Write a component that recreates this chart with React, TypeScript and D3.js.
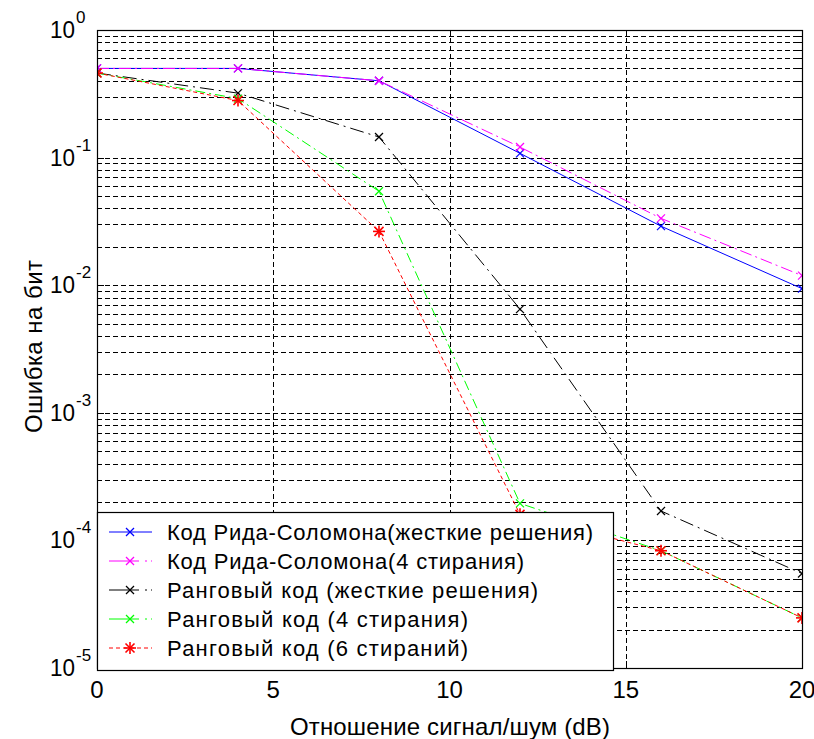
import React from "react";
import * as d3 from "d3";

// SNR points (dB)
const snr = [0, 4, 8, 12, 16, 20];

// Bit error rate for each scheme
const rsHard = [0.5, 0.5, 0.4, 0.108, 0.029, 0.0094];
const rsErase4 = [0.5, 0.5, 0.4, 0.121, 0.0334, 0.0119];
const rankHard = [0.46, 0.32, 0.145, 0.0065, 0.00017, 0.000055];
const rankErase4 = [0.46, 0.29, 0.0545, 0.000195, 0.000083, 0.0000247];
const rankErase6 = [0.46, 0.28, 0.0264, 0.00016, 0.000083, 0.0000247];

const legendLabels = [
  "Код Рида-Соломона(жесткие решения)",
  "Код Рида-Соломона(4 стирания)",
  "Ранговый код (жесткие решения)",
  "Ранговый код (4 стирания)",
  "Ранговый код (6 стираний)",
];
// rendered widths of the legend entries (bitmap-style wide spacing)
const legendWidths = [426, 357, 371, 301, 301];

const xTicks = [0, 5, 10, 15, 20];
const yDecades = [0, -1, -2, -3, -4, -5];

type Series = {
  values: number[];
  color: string;
  dash: string;
  legendDash: string;
  marker: "x" | "star";
};

const series: Series[] = [
  { values: rsHard, color: "#0000ff", dash: "none", legendDash: "none", marker: "x" },
  { values: rsErase4, color: "#ff00ff", dash: "12,4,2,4", legendDash: "30,6,2,4", marker: "x" },
  { values: rankHard, color: "#000000", dash: "14,5,2,5", legendDash: "30,6,2,4", marker: "x" },
  { values: rankErase4, color: "#00ff00", dash: "10,4,2,4", legendDash: "30,6,2,4", marker: "x" },
  { values: rankErase6, color: "#ff0000", dash: "4,3", legendDash: "4,3", marker: "star" },
];

const W = 814;
const H = 739;
const left = 97;
const right = 802;
const top = 30;
const bottom = 668;
const FONT = "'Liberation Sans', Arial, sans-serif";

function Marker({ x, y, kind, color }: { x: number; y: number; kind: "x" | "star"; color: string }) {
  if (kind === "x") {
    const s = 4;
    return (
      <g stroke={color} strokeWidth={1.2}>
        <line x1={x - s} y1={y - s} x2={x + s} y2={y + s} />
        <line x1={x - s} y1={y + s} x2={x + s} y2={y - s} />
      </g>
    );
  }
  const s = 6;
  const d = 4.5;
  return (
    <g stroke={color} strokeWidth={1.6}>
      <line x1={x - s} y1={y} x2={x + s} y2={y} />
      <line x1={x} y1={y - s} x2={x} y2={y + s} />
      <line x1={x - d} y1={y - d} x2={x + d} y2={y + d} />
      <line x1={x - d} y1={y + d} x2={x + d} y2={y - d} />
    </g>
  );
}

export default function App() {
  const x = d3.scaleLinear().domain([0, 20]).range([left, right]);
  const y = d3.scaleLog().domain([1e-5, 1]).range([bottom, top]);

  const gridY: number[] = [];
  for (let e = -5; e < 0; e++) {
    for (let m = 1; m <= 9; m++) gridY.push(m * Math.pow(10, e));
  }
  gridY.push(1);

  const line = d3
    .line<number>()
    .x((_, i) => x(snr[i]))
    .y((v) => y(v));

  const legX = 97;
  const legY = 512;
  const legW = 516;
  const legH = 158;
  const rowY = (i: number) => 532 + i * 29;

  return (
    <svg width={W} height={H} style={{ display: "block", position: "absolute", left: 0, top: 0 }}>
      <rect x={0} y={0} width={W} height={H} fill="#fff" />
      <defs>
        <clipPath id="plotClip">
          <rect x={left} y={top} width={right - left} height={bottom - top} />
        </clipPath>
      </defs>

      {/* grid */}
      <g stroke="#000" strokeWidth={1} strokeDasharray="5,3" shapeRendering="crispEdges">
        {gridY.map((v, i) => (
          <line key={"gy" + i} x1={left} x2={right} y1={Math.round(y(v)) + 0.5} y2={Math.round(y(v)) + 0.5} />
        ))}
        {[5, 10, 15].map((t) => (
          <line key={"gx" + t} x1={Math.round(x(t)) + 0.5} x2={Math.round(x(t)) + 0.5} y1={top} y2={bottom} />
        ))}
      </g>

      {/* tick marks */}
      <g stroke="#000" strokeWidth={1} shapeRendering="crispEdges">
        {gridY.map((v, i) => {
          const yy = Math.round(y(v)) + 0.5;
          const len = Number.isInteger(Math.log10(v)) ? 7 : 4;
          return (
            <g key={"ty" + i}>
              <line x1={left} x2={left + len} y1={yy} y2={yy} />
              <line x1={right - len} x2={right} y1={yy} y2={yy} />
            </g>
          );
        })}
        {[5, 10, 15].map((t) => {
          const xx = Math.round(x(t)) + 0.5;
          return (
            <g key={"tx" + t}>
              <line x1={xx} x2={xx} y1={top} y2={top + 7} />
              <line x1={xx} x2={xx} y1={bottom - 7} y2={bottom} />
            </g>
          );
        })}
      </g>

      {/* data */}
      <g clipPath="url(#plotClip)" fill="none">
        {series.map((s, k) => (
          <path key={"l" + k} d={line(s.values) || ""} stroke={s.color} strokeWidth={1} strokeDasharray={s.dash} />
        ))}
        {series.map((s, k) =>
          s.values.map((v, i) => (
            <Marker key={"m" + k + "-" + i} x={x(snr[i])} y={y(v)} kind={s.marker} color={s.color} />
          ))
        )}
      </g>

      {/* frame */}
      <rect x={left + 0.5} y={top + 0.5} width={right - left} height={bottom - top} fill="none" stroke="#000" strokeWidth={1.2} />

      {/* x tick labels */}
      <g fontFamily={FONT} fontSize={24} fill="#000" textAnchor="middle">
        {xTicks.map((t) => (
          <text key={"xl" + t} x={x(t)} y={698}>
            {t}
          </text>
        ))}
      </g>

      {/* y tick labels */}
      <g fontFamily={FONT} fill="#000">
        {yDecades.map((e) => {
          const yy = y(Math.pow(10, e));
          return (
            <g key={"yl" + e}>
              <text x={75} y={yy + 8} fontSize={24} textAnchor="end" textLength={25} lengthAdjust="spacingAndGlyphs">
                10
              </text>
              <text x={76} y={yy - 7} fontSize={17} textAnchor="start">
                {e === 0 ? "0" : "-" + Math.abs(e)}
              </text>
            </g>
          );
        })}
      </g>

      {/* axis titles */}
      <text x={290} y={735} fontFamily={FONT} fontSize={24} fill="#000" textLength={320} lengthAdjust="spacing">
        Отношение сигнал/шум (dB)
      </text>
      <text
        transform={`translate(42, 433) rotate(-90)`}
        fontFamily={FONT}
        fontSize={24}
        fill="#000"
        textLength={173}
        lengthAdjust="spacing"
      >
        Ошибка на бит
      </text>

      {/* legend */}
      <rect x={legX + 0.5} y={legY + 0.5} width={legW} height={legH} fill="#fff" stroke="#000" strokeWidth={1.2} />
      {series.map((s, i) => (
        <g key={"lg" + i}>
          <line x1={109} x2={152} y1={rowY(i)} y2={rowY(i)} stroke={s.color} strokeWidth={1} strokeDasharray={s.legendDash} />
          <Marker x={130} y={rowY(i)} kind={s.marker} color={s.color} />
          <text
            x={167}
            y={rowY(i) + 8}
            fontFamily={FONT}
            fontSize={22}
            fill="#000"
            textLength={legendWidths[i]}
            lengthAdjust="spacing"
          >
            {legendLabels[i]}
          </text>
        </g>
      ))}
    </svg>
  );
}
